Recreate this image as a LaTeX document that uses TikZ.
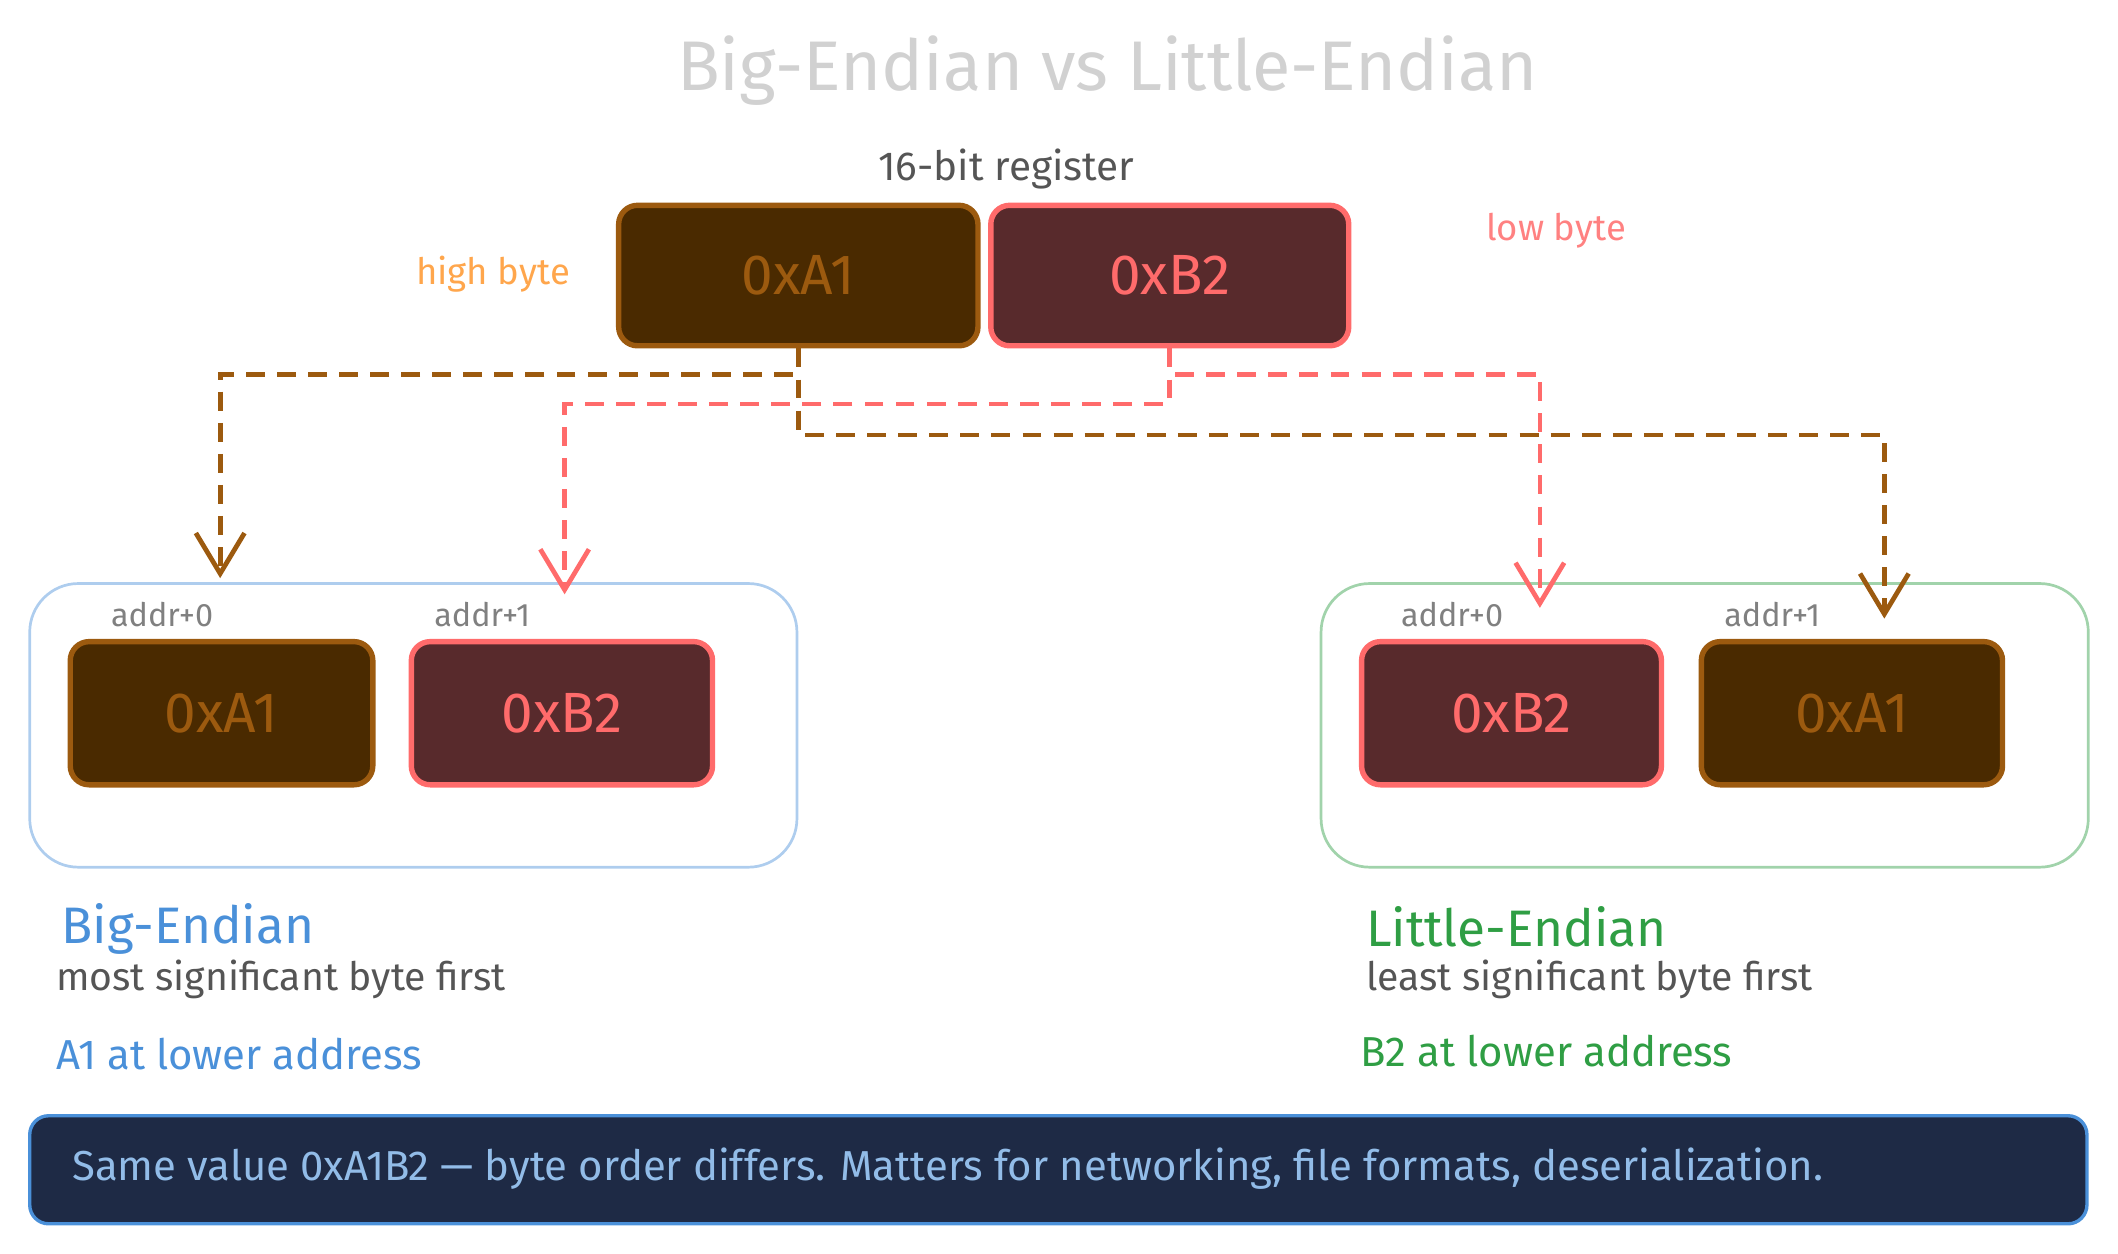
\documentclass[tikz,border=0pt]{standalone}
\usepackage{fontspec}
\setmainfont{Fira Sans}
\usetikzlibrary{arrows.meta}
\definecolor{brn}{HTML}{9C5A0F}
\definecolor{brnf}{HTML}{4A2A00}
\definecolor{rd}{HTML}{FF6B6B}
\definecolor{rdf}{HTML}{582A2C}
\definecolor{bl}{HTML}{4A90D9}
\definecolor{gr}{HTML}{2F9E44}
\definecolor{tg}{HTML}{555555}
\begin{document}
\begin{tikzpicture}[x=1pt,y=-1pt,
 hb/.style={draw=brn,fill=brnf,line width=4pt,rounded corners=14pt,text=brn,font=\fontsize{42}{44}\selectfont,minimum height=104pt},
 lb/.style={draw=rd,fill=rdf,line width=4pt,rounded corners=14pt,text=rd,font=\fontsize{42}{44}\selectfont,minimum height=104pt},
 addr/.style={text=gray,font=\fontsize{24}{26}\selectfont},
 ba/.style={draw=brn,line width=3.5pt,dash pattern=on 14pt off 9pt,-{Straight Barb[length=30pt,width=36pt,line width=3.5pt]}},
 ra/.style={draw=rd,line width=3.5pt,dash pattern=on 14pt off 9pt,-{Straight Barb[length=30pt,width=36pt,line width=3.5pt]}},
 cont/.style={line width=2pt,rounded corners=36pt}]
\useasboundingbox (0,0) rectangle (1568,928);
\node (title) at (820,52) {\fontsize{52}{56}\selectfont\color{black!18}Big-Endian vs Little-Endian};
\node (reg) at (745,125) {\fontsize{30}{32}\selectfont\color{tg}16-bit register};
\node[hb,minimum width=266pt] (ra1) at (591,204) {0xA1};
\node[lb,minimum width=265pt] (rb2) at (866,204) {0xB2};
\node (hi) at (365,203) {\fontsize{27}{29}\selectfont\color{orange!70!white}high byte};
\node (lo) at (1152,171) {\fontsize{27}{29}\selectfont\color{rd!85!white}low byte};
\draw[cont,draw=bl!45] (22,432) rectangle (590,642);
\draw[cont,draw=gr!45] (978,432) rectangle (1546,642);
\node[addr] (a0) at (120,455) {addr+0};
\node[addr] (a1) at (357,455) {addr+1};
\node[addr] (a2) at (1075,455) {addr+0};
\node[addr] (a3) at (1312,455) {addr+1};
\node[hb,minimum width=224pt,minimum height=106pt] (ba1) at (164,528) {0xA1};
\node[lb,minimum width=223pt,minimum height=106pt] (bb2) at (416,528) {0xB2};
\node[lb,minimum width=222pt,minimum height=106pt] (lb2) at (1119,528) {0xB2};
\node[hb,minimum width=223pt,minimum height=106pt] (la1) at (1371,528) {0xA1};
\coordinate (t1) at (163,428); \coordinate (t2) at (418,440);
\coordinate (t3) at (1140,450); \coordinate (t4) at (1395,458);
\draw[ba] (ra1.south) -- ++(0,19) -| (t1);
\draw[ba] (ra1.south) -- ++(0,64) -| (t4);
\draw[ra] (rb2.south) -- ++(0,41) -| (t2);
\draw[ra] (rb2.south) -- ++(0,19) -| (t3);
\node[anchor=west] (bt) at (42,688) {\fontsize{38}{40}\selectfont\color{bl}Big-Endian};
\node[anchor=west] (bs) at (38,725) {\fontsize{29}{31}\selectfont\color{tg}most significant byte first};
\node[anchor=west] (bn) at (38,780) {\fontsize{31}{33}\selectfont\color{bl}A1 at lower address};
\node[anchor=west] (lt) at (1008,686) {\fontsize{38}{40}\selectfont\color{gr}Little-Endian};
\node[anchor=west] (ls) at (1008,725) {\fontsize{29}{31}\selectfont\color{tg}least significant byte first};
\node[anchor=west] (ln) at (1004,778) {\fontsize{31}{33}\selectfont\color{gr}B2 at lower address};
\draw[draw=bl,fill={rgb,255:red,30;green,42;blue,69},line width=2.5pt,rounded corners=14pt] (22,826) rectangle (1545,906);
\node[anchor=west] (note) at (50,865) {\fontsize{31}{33}\selectfont\color{bl!60!white}Same value 0xA1B2 — byte order differs. Matters for networking, file formats, deserialization.};
\end{tikzpicture}
\end{document}
